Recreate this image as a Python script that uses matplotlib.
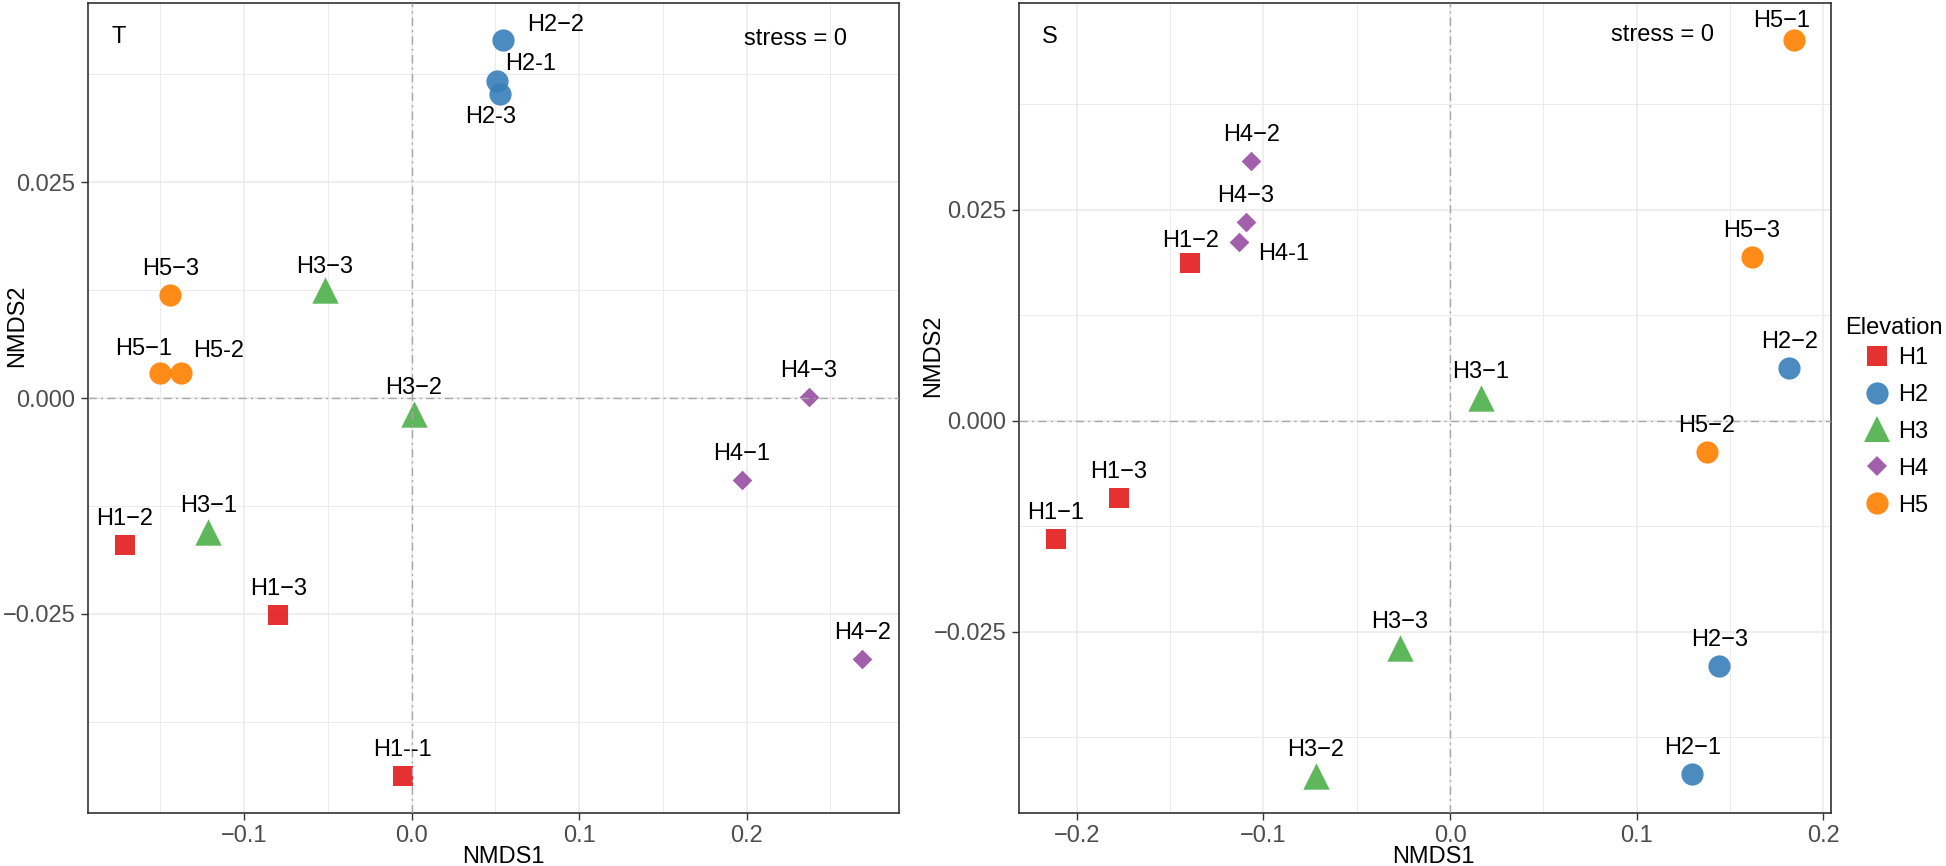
import matplotlib.pyplot as plt
from matplotlib.lines import Line2D
from matplotlib.ticker import MultipleLocator

plt.rcParams['font.family'] = ['Liberation Sans', 'DejaVu Sans']

groups = ['H1', 'H2', 'H3', 'H4', 'H5']
group_colors = ['#E41A1C', '#377EB8', '#4DAF4A', '#984EA3', '#FF7F00']
group_markers = ['s', 'o', '^', 'D', 'o']
marker_sizes = [15, 16, 19, 10, 16]

# panel T
t_names = ['H1−2', 'H1--1', 'H1−3', 'H2−2', 'H2-1', 'H2-3', 'H3−3', 'H3−2',
           'H3−1', 'H4−3', 'H4−1', 'H4−2', 'H5−3', 'H5−1', 'H5-2']
t_group = ['H1', 'H1', 'H1', 'H2', 'H2', 'H2', 'H3', 'H3',
           'H3', 'H4', 'H4', 'H4', 'H5', 'H5', 'H5']
t_x = [-0.1712, -0.0053, -0.0797, 0.0548, 0.0508, 0.0527, -0.0519, 0.0013,
       -0.1213, 0.2370, 0.1970, 0.2689, -0.1441, -0.1500, -0.1375]
t_y = [-0.0170, -0.0438, -0.0251, 0.0415, 0.0367, 0.0352, 0.0125, -0.0019,
       -0.0155, 0.0001, -0.0095, -0.0302, 0.0119, 0.0029, 0.0029]

# panel S
s_names = ['H1−1', 'H1−2', 'H1−3', 'H2−1', 'H2−2', 'H2−3', 'H3−1', 'H3−2',
           'H3−3', 'H4-1', 'H4−2', 'H4−3', 'H5−1', 'H5−2', 'H5−3']
s_group = ['H1', 'H1', 'H1', 'H2', 'H2', 'H2', 'H3', 'H3',
           'H3', 'H4', 'H4', 'H4', 'H5', 'H5', 'H5']
s_x = [-0.2112, -0.1392, -0.1775, 0.1297, 0.1817, 0.1442, 0.0163, -0.0718,
       -0.0268, -0.1132, -0.1065, -0.1093, 0.1843, 0.1376, 0.1618]
s_y = [-0.0140, 0.0187, -0.0092, -0.0419, 0.0062, -0.0290, 0.0027, -0.0421,
       -0.0269, 0.0212, 0.0307, 0.0235, 0.0451, -0.0037, 0.0194]

# label nudges in pixels (default: straight above the point)
t_nudge = {'H2−2': (52, 15), 'H2-1': (34, 17), 'H2-3': (-9, -23),
           'H5−1': (-17, 24), 'H5-2': (37, 22), 'H3−3': (0, 23)}
s_nudge = {'H4-1': (45, -12), 'H1−2': (0, 22), 'H5−1': (-12, 19)}

FS = 17


def draw_panel(ax, names, grp, xs, ys, nudge, tag, xticks):
    for g, col, mk, ms in zip(groups, group_colors, group_markers, marker_sizes):
        px = [x for x, gg in zip(xs, grp) if gg == g]
        py = [y for y, gg in zip(ys, grp) if gg == g]
        ax.scatter(px, py, marker=mk, s=ms ** 2, color=col, alpha=0.9,
                   linewidths=0, zorder=3)
    for n, x, y in zip(names, xs, ys):
        dx, dy = nudge.get(n, (0, 26))
        ax.annotate(n, (x, y), xytext=(dx, dy), textcoords='offset pixels',
                    ha='center', va='center', fontsize=FS, zorder=5)
    ax.margins(x=0.05, y=0.05)
    ax.axhline(0, color='#A8A8A8', lw=1.0, ls=(0, (6, 3, 1.5, 3)), zorder=4)
    ax.axvline(0, color='#A8A8A8', lw=1.0, ls=(0, (6, 3, 1.5, 3)), zorder=4)

    ax.set_xticks(xticks)
    ax.set_yticks([-0.025, 0.0, 0.025])
    ax.xaxis.set_minor_locator(MultipleLocator(0.05))
    ax.yaxis.set_minor_locator(MultipleLocator(0.0125))
    ax.set_xticklabels([f'{v:.1f}'.replace('-', '−') for v in xticks])
    ax.set_yticklabels(['−0.025', '0.000', '0.025'])
    ax.grid(which='major', color='#EBEBEB', lw=1.1, zorder=0)
    ax.grid(which='minor', color='#EBEBEB', lw=0.7, zorder=0)
    ax.set_axisbelow(True)
    ax.tick_params(which='major', length=5, width=1, color='#333333',
                   labelcolor='#4D4D4D', labelsize=FS, pad=4)
    ax.tick_params(which='minor', length=0)
    for sp in ax.spines.values():
        sp.set_color('#333333')
        sp.set_linewidth(1.2)

    ax.text(0.038, 0.958, tag, transform=ax.transAxes, fontsize=FS,
            ha='center', va='center')


fig = plt.figure(figsize=(19.46, 8.66), dpi=100)
ax1 = fig.add_axes([88 / 1946, 53 / 866, 811 / 1946, 810 / 866])
ax2 = fig.add_axes([1019 / 1946, 53 / 866, 812 / 1946, 810 / 866])

draw_panel(ax1, t_names, t_group, t_x, t_y, t_nudge, 'T', [-0.1, 0.0, 0.1, 0.2])
draw_panel(ax2, s_names, s_group, s_x, s_y, s_nudge, 'S',
           [-0.2, -0.1, 0.0, 0.1, 0.2])

ax1.text(0.872, 0.955, 'stress = 0', transform=ax1.transAxes, fontsize=FS,
         ha='center', va='center')
ax2.text(0.792, 0.96, 'stress = 0', transform=ax2.transAxes, fontsize=FS,
         ha='center', va='center')

ax1.set_xlabel('NMDS1', fontsize=FS)
ax1.xaxis.set_label_coords(0.512, -0.041)
ax1.set_ylabel('NMDS2', fontsize=FS, va='center')
ax1.yaxis.set_label_coords(-0.0875, 0.602)
ax2.set_xlabel('NMDS1', fontsize=FS)
ax2.xaxis.set_label_coords(0.51, -0.041)
ax2.set_ylabel('NMDS2', fontsize=FS, va='center')
ax2.yaxis.set_label_coords(-0.106, 0.565)

# legend: title as separate text so its gap to the keys can be matched
fig.text(1845 / 1946, 1 - 328 / 866, 'Elevation', fontsize=FS,
         ha='left', va='center')
handles = [Line2D([], [], marker=mk, color=col, alpha=0.9, linestyle='',
                  markersize=ms, markeredgewidth=0)
           for col, mk, ms in zip(group_colors, group_markers, marker_sizes)]
fig.legend(handles, groups, loc='upper left',
           bbox_to_anchor=(1864 / 1946, 1 - 347 / 866), frameon=False,
           fontsize=FS, borderpad=0, borderaxespad=0,
           handlelength=1.1, handletextpad=0.34, labelspacing=0.63)

fig.savefig('out.png', dpi=100)
